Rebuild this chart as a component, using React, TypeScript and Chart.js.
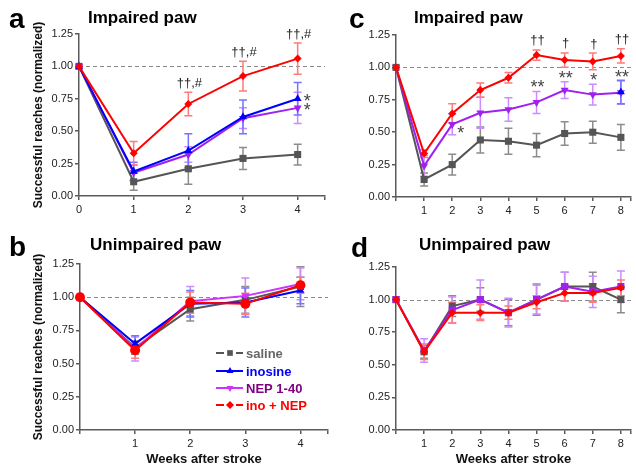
import React, { useEffect, useRef } from "react";
import { Chart, registerables } from "chart.js";
Chart.register(...registerables);

const FONT = '"Liberation Sans", Arial, Helvetica, sans-serif';

// ---------- shared labels ----------
const seriesNames = ["saline", "inosine", "NEP 1-40", "ino + NEP"];
const yTickValues = [0, 0.25, 0.5, 0.75, 1.0, 1.25];
const weeks4 = [0, 1, 2, 3, 4];
const weeks8 = [0, 1, 2, 3, 4, 5, 6, 7, 8];
const xLabelsA = ["0", "1", "2", "3", "4"];
const xLabelsB = ["", "1", "2", "3", "4"];
const xLabels8 = ["", "1", "2", "3", "4", "5", "6", "7", "8"];
const panelTitles = ["Impaired paw", "Unimpaired paw", "Impaired paw", "Unimpaired paw"];
const yAxisTitle = "Successful reaches (normalized)";
const xAxisTitle = "Weeks after stroke";

// ---------- panel a ----------
const aSaline = [1.0, 0.11, 0.21, 0.29, 0.32];
const aSalineErr = [0, 0.065, 0.12, 0.085, 0.08];
const aInosine = [1.0, 0.19, 0.35, 0.61, 0.75];
const aInosineErr = [0, 0.07, 0.13, 0.13, 0.125];
const aNep = [1.0, 0.18, 0.32, 0.6, 0.68];
const aNepErr = [0, 0.06, 0.06, 0.08, 0.12];
const aCombo = [1.0, 0.33, 0.71, 0.925, 1.06];
const aComboErr = [0, 0.09, 0.09, 0.115, 0.12];
const aComboMarks = ["", "", "††,#", "††,#", "††,#"];
const aInosineSide = ["", "", "", "", "*"];
const aNepSide = ["", "", "", "", "*"];

// ---------- panel b ----------
const bSaline = [1.0, 0.62, 0.91, 0.98, 1.08];
const bSalineErr = [0, 0.05, 0.09, 0.1, 0.15];
const bInosine = [1.0, 0.65, 0.95, 0.96, 1.05];
const bInosineErr = [0, 0.06, 0.1, 0.11, 0.1];
const bNep = [1.0, 0.61, 0.97, 1.01, 1.1];
const bNepErr = [0, 0.09, 0.11, 0.135, 0.12];
const bCombo = [1.0, 0.6, 0.96, 0.95, 1.09];
const bComboErr = [0, 0.06, 0.08, 0.08, 0.06];

// ---------- panel c ----------
const cSaline = [1.0, 0.135, 0.25, 0.44, 0.43, 0.4, 0.49, 0.5, 0.46];
const cSalineErr = [0, 0.05, 0.08, 0.1, 0.1, 0.09, 0.09, 0.085, 0.1];
const cInosine = [null, null, null, null, null, null, null, null, 0.81];
const cInosineErr = [0, 0, 0, 0, 0, 0, 0, 0, 0.09];
const cNep = [1.0, 0.24, 0.56, 0.65, 0.675, 0.73, 0.825, 0.79, 0.805];
const cNepErr = [0, 0.08, 0.08, 0.12, 0.09, 0.085, 0.065, 0.08, 0.09];
const cCombo = [1.0, 0.335, 0.645, 0.825, 0.92, 1.095, 1.057, 1.046, 1.088];
const cComboErr = [0, 0.03, 0.075, 0.055, 0.04, 0.04, 0.055, 0.065, 0.055];
const cComboMarks = ["", "", "", "", "", "††", "†", "†", "††"];
const cNepMarks = ["", "", "", "", "", "**", "**", "*", "**"];
const cNepSide = ["", "", "*", "", "", "", "", "", ""];

// ---------- panel d ----------
const dSaline = [1.0, 0.6, 0.95, 1.0, 0.9, 1.0, 1.1, 1.1, 1.0];
const dSalineErr = [0, 0.05, 0.08, 0.09, 0.1, 0.12, 0.11, 0.11, 0.1];
const dNep = [1.0, 0.61, 0.92, 1.0, 0.9, 1.0, 1.1, 1.06, 1.1];
const dNepErr = [0, 0.09, 0.1, 0.15, 0.11, 0.11, 0.11, 0.12, 0.12];
const dCombo = [1.0, 0.6, 0.9, 0.9, 0.9, 0.98, 1.05, 1.05, 1.09];
const dComboErr = [0, 0.06, 0.08, 0.06, 0.05, 0.05, 0.06, 0.07, 0.06];

// ---------- styles ----------
const C_SAL = "#555555";
const C_SAL_E = "#8c8c8c";
const C_INO = "#0000ff";
const C_INO_E = "#7474ff";
const C_NEP = "#a020f0";
const C_NEP_B = "#cc33ff";
const C_NEP_E = "#cc8cff";
const C_RED = "#ff0000";
const C_RED_E = "#ff7a7a";
const AXIS = "#5a5a5a";

function pts(xs: number[], ys: (number | null)[], es: number[], marks?: string[], side?: string[]) {
  const out: any[] = [];
  xs.forEach((x, i) => {
    if (ys[i] == null) return;
    out.push({ x, y: ys[i], e: es[i], m: marks ? marks[i] : "", s: side ? side[i] : "" });
  });
  return out;
}

function series(label: string, data: any[], color: string, errColor: string, pointStyle: string, radius: number, order: number, extra: any = {}) {
  return {
    label,
    data,
    borderColor: color,
    backgroundColor: color,
    pointBackgroundColor: color,
    pointBorderColor: color,
    pointBorderWidth: 0,
    borderWidth: 2,
    pointStyle,
    pointRadius: radius,
    order,
    clip: false,
    errColor,
    ...extra,
  };
}

function drawMarker(ctx: CanvasRenderingContext2D, style: string, x: number, y: number, r: number, color: string, rot = 0) {
  ctx.fillStyle = color;
  ctx.beginPath();
  if (style === "rect") {
    const s = r * Math.SQRT1_2;
    ctx.rect(x - s, y - s, 2 * s, 2 * s);
  } else if (style === "triangle") {
    const d = rot === 180 ? -1 : 1;
    ctx.moveTo(x, y - d * r);
    ctx.lineTo(x - r * 0.866, y + d * r * 0.5);
    ctx.lineTo(x + r * 0.866, y + d * r * 0.5);
    ctx.closePath();
  } else if (style === "rectRot") {
    ctx.moveTo(x, y - r);
    ctx.lineTo(x + r, y);
    ctx.lineTo(x, y + r);
    ctx.lineTo(x - r, y);
    ctx.closePath();
  } else {
    ctx.arc(x, y, r, 0, Math.PI * 2);
  }
  ctx.fill();
}

const decorPlugin = {
  id: "decor",
  beforeDatasetsDraw(chart: any) {
    const { ctx, chartArea, scales } = chart;
    const ys = scales.y;
    ctx.save();
    ctx.setLineDash([4, 3]);
    ctx.strokeStyle = "#8a8a8a";
    ctx.lineWidth = 1;
    const py = Math.round(ys.getPixelForValue(1)) + 0.5;
    ctx.beginPath();
    ctx.moveTo(chartArea.left, py);
    ctx.lineTo(chartArea.right, py);
    ctx.stroke();
    ctx.setLineDash([]);
    const dss = chart.data.datasets;
    const idx = dss.map((_: any, i: number) => i).sort((a: number, b: number) => (dss[b].order || 0) - (dss[a].order || 0));
    for (const i of idx) {
      const ds = dss[i];
      const meta = chart.getDatasetMeta(i);
      ctx.strokeStyle = ds.errColor;
      ctx.lineWidth = 1.5;
      meta.data.forEach((el: any, j: number) => {
        const p = ds.data[j];
        if (!p || !p.e) return;
        const x = el.x;
        const y1 = ys.getPixelForValue(p.y + p.e);
        const y2 = ys.getPixelForValue(p.y - p.e);
        ctx.beginPath();
        ctx.moveTo(x, y1);
        ctx.lineTo(x, y2);
        ctx.moveTo(x - 4, y1);
        ctx.lineTo(x + 4, y1);
        ctx.moveTo(x - 4, y2);
        ctx.lineTo(x + 4, y2);
        ctx.stroke();
      });
    }
    ctx.restore();
  },
  afterDraw(chart: any) {
    const { ctx, scales } = chart;
    const ys = scales.y;
    const cfg = chart.options.plugins.decor;
    ctx.save();
    // annotations
    chart.data.datasets.forEach((ds: any, i: number) => {
      const meta = chart.getDatasetMeta(i);
      meta.data.forEach((el: any, j: number) => {
        const p = ds.data[j];
        if (p.m) {
          const star = p.m.indexOf("*") >= 0;
          ctx.font = star ? `18px ${FONT}` : `13px ${FONT}`;
          ctx.fillStyle = star ? "#444" : "#222";
          ctx.textAlign = "center";
          ctx.textBaseline = "middle";
          const top = ys.getPixelForValue(p.y + p.e);
          ctx.fillText(p.m, el.x + 1, top - (star ? 3 : 9));
        }
        if (p.s) {
          ctx.font = `18px ${FONT}`;
          ctx.fillStyle = "#444";
          ctx.textAlign = "left";
          ctx.textBaseline = "middle";
          ctx.fillText(p.s, el.x + (ds.sideDx || 6), el.y + (ds.sideDy || 3));
        }
      });
    });
    // letter + title
    ctx.fillStyle = "#000";
    ctx.textAlign = "left";
    ctx.textBaseline = "alphabetic";
    ctx.font = `bold 28px ${FONT}`;
    ctx.fillText(cfg.letter, cfg.letterX, cfg.letterY);
    ctx.textBaseline = "middle";
    ctx.font = `bold 17px ${FONT}`;
    ctx.fillText(cfg.title, cfg.titleX, cfg.titleY);
    // legend
    if (cfg.legend) {
      const rows = [353, 371, 388, 405];
      const lineCols = [C_SAL, C_INO, C_NEP_B, C_RED];
      const textCols = ["#666666", C_INO, "#800080", C_RED];
      const styles = ["rect", "triangle", "triangle", "rectRot"];
      const rots = [0, 0, 180, 0];
      const gaps = [true, false, false, true];
      seriesNames.forEach((name, k) => {
        const y = rows[k];
        ctx.strokeStyle = lineCols[k];
        ctx.lineWidth = 2;
        ctx.beginPath();
        if (gaps[k]) {
          ctx.moveTo(216, y); ctx.lineTo(224, y);
          ctx.moveTo(236, y); ctx.lineTo(243, y);
        } else {
          ctx.moveTo(216, y); ctx.lineTo(243, y);
        }
        ctx.stroke();
        drawMarker(ctx, styles[k], 230, y, 4, lineCols[k], rots[k]);
        ctx.font = `bold 13px ${FONT}`;
        ctx.fillStyle = textCols[k];
        ctx.textBaseline = "middle";
        ctx.fillText(name, 246, y + 1);
      });
    }
    ctx.restore();
  },
};

function buildPanel(p: any) {
  return {
    type: "line",
    data: { datasets: p.datasets },
    plugins: [decorPlugin],
    options: {
      responsive: false,
      animation: false,
      events: [],
      layout: { padding: p.padding },
      plugins: {
        legend: { display: false },
        tooltip: { enabled: false },
        decor: { letter: p.letter, letterX: p.letterX, letterY: p.letterY, title: p.title, titleX: p.titleX, titleY: p.titleY, legend: !!p.legend },
      },
      scales: {
        x: {
          type: "linear",
          min: 0,
          max: p.xMax,
          afterFit: (s: any) => { s.height = p.xH; },
          afterBuildTicks: (s: any) => { s.ticks = p.xTicks.map((v: number) => ({ value: v })).concat([{ value: p.xMax }]); },
          ticks: {
            autoSkip: false,
            maxRotation: 0,
            padding: 3,
            color: "#222",
            font: { family: FONT, size: 11 },
            callback: (v: number) => { const i = p.xTicks.indexOf(v); return i >= 0 ? p.xLabels[i] : ""; },
          },
          grid: { drawOnChartArea: false, drawTicks: true, tickLength: 4, color: AXIS, lineWidth: 1.5 },
          border: { display: true, color: AXIS, width: 1.5 },
          title: p.xTitle
            ? { display: true, text: p.xTitle, color: "#111", font: { family: FONT, size: 13, weight: "bold" }, padding: { top: 0, bottom: 2 } }
            : { display: false },
        },
        y: {
          min: 0,
          max: 1.25,
          afterFit: (s: any) => { s.width = p.yW; },
          afterBuildTicks: (s: any) => { s.ticks = yTickValues.map((v) => ({ value: v })); },
          ticks: {
            padding: 2,
            color: "#222",
            font: { family: FONT, size: 11 },
            callback: (v: number) => Number(v).toFixed(2),
          },
          grid: { drawOnChartArea: false, drawTicks: true, tickLength: 4, color: AXIS, lineWidth: 1.5 },
          border: { display: true, color: AXIS, width: 1.5 },
          title: p.yTitle
            ? { display: true, text: p.yTitle, color: "#111", font: { family: FONT, size: 12, weight: "bold" }, padding: { top: 4, bottom: 0 } }
            : { display: false },
        },
      },
    },
  };
}

const panels = [
  {
    letter: "a", letterX: 9, letterY: 28, title: panelTitles[0], titleX: 88, titleY: 18,
    padding: { left: 27, right: 311, top: 34, bottom: 253 }, yW: 52, xH: 20,
    xMax: 4.5, xTicks: weeks4, xLabels: xLabelsA, yTitle: yAxisTitle,
    datasets: [
      series(seriesNames[0], pts(weeks4, aSaline, aSalineErr), C_SAL, C_SAL_E, "rect", 5, 3),
      series(seriesNames[1], pts(weeks4, aInosine, aInosineErr, undefined, aInosineSide), C_INO, C_INO_E, "triangle", 4.6, 1, { sideDx: 6, sideDy: 3 }),
      series(seriesNames[2], pts(weeks4, aNep, aNepErr, undefined, aNepSide), C_NEP, C_NEP_E, "triangle", 4.6, 2, { pointRotation: 180, sideDx: 6, sideDy: 3 }),
      series(seriesNames[3], pts(weeks4, aCombo, aComboErr, aComboMarks), C_RED, C_RED_E, "rectRot", 4, 0),
    ],
  },
  {
    letter: "b", letterX: 9, letterY: 256, title: panelTitles[1], titleX: 90, titleY: 245,
    padding: { left: 27, right: 308, top: 264, bottom: 0 }, yW: 53, xH: 39,
    xMax: 4.5, xTicks: weeks4, xLabels: xLabelsB, yTitle: yAxisTitle, xTitle: xAxisTitle, legend: true,
    datasets: [
      series(seriesNames[0], pts(weeks4, bSaline, bSalineErr), C_SAL, C_SAL_E, "rect", 5, 3),
      series(seriesNames[1], pts(weeks4, bInosine, bInosineErr), C_INO, C_INO_E, "triangle", 4.6, 1),
      series(seriesNames[2], pts(weeks4, bNep, bNepErr), C_NEP_B, C_NEP_E, "triangle", 4.6, 2, { pointRotation: 180 }),
      series(seriesNames[3], pts(weeks4, bCombo, bComboErr), C_RED, C_RED_E, "circle", 5, 0),
    ],
  },
  {
    letter: "c", letterX: 349, letterY: 28, title: panelTitles[2], titleX: 414, titleY: 18,
    padding: { left: 356, right: 0, top: 35, bottom: 252 }, yW: 40, xH: 20,
    xMax: 8.36, xTicks: weeks8, xLabels: xLabels8,
    datasets: [
      series(seriesNames[0], pts(weeks8, cSaline, cSalineErr), C_SAL, C_SAL_E, "rect", 5, 3),
      series(seriesNames[2], pts(weeks8, cNep, cNepErr, cNepMarks, cNepSide), C_NEP, C_NEP_E, "triangle", 4.6, 2, { pointRotation: 180, sideDx: 5, sideDy: 10 }),
      series(seriesNames[1], pts(weeks8, cInosine, cInosineErr), C_INO, C_INO_E, "triangle", 4.6, 1),
      series(seriesNames[3], pts(weeks8, cCombo, cComboErr, cComboMarks), C_RED, C_RED_E, "rectRot", 4, 0),
    ],
  },
  {
    letter: "d", letterX: 351, letterY: 257, title: panelTitles[3], titleX: 419, titleY: 245,
    padding: { left: 356, right: 0, top: 267, bottom: 0 }, yW: 40, xH: 39,
    xMax: 8.36, xTicks: weeks8, xLabels: xLabels8, xTitle: xAxisTitle,
    datasets: [
      series(seriesNames[0], pts(weeks8, dSaline, dSalineErr), C_SAL, C_SAL_E, "rect", 5, 3),
      series(seriesNames[2], pts(weeks8, dNep, dNepErr), C_NEP, C_NEP_E, "rect", 5, 2),
      series(seriesNames[3], pts(weeks8, dCombo, dComboErr), C_RED, C_RED_E, "rectRot", 4, 0),
    ],
  },
];

function Panel({ cfg }: { cfg: any }) {
  const ref = useRef<HTMLCanvasElement>(null);
  useEffect(() => {
    if (!ref.current) return;
    const chart = new Chart(ref.current, buildPanel(cfg) as any);
    return () => chart.destroy();
  }, []);
  return (
    <canvas
      ref={ref}
      width={636}
      height={469}
      style={{ position: "absolute", left: 0, top: 0, width: 636, height: 469 }}
    />
  );
}

export default function App() {
  return (
    <div style={{ position: "fixed", left: 0, top: 0, width: 636, height: 469, background: "#fff", overflow: "hidden" }}>
      {panels.map((p, i) => (
        <Panel key={i} cfg={p} />
      ))}
    </div>
  );
}
